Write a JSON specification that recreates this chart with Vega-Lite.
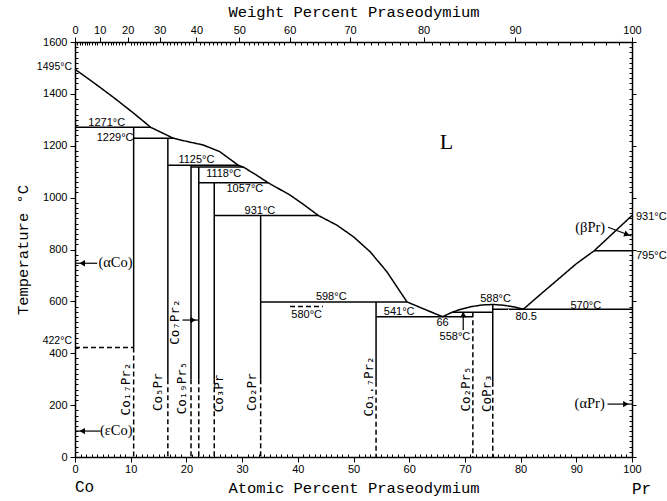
{
  "$schema": "https://vega.github.io/schema/vega-lite/v6.json",
  "width": 557,
  "height": 415,
  "autosize": {"type": "none"},
  "padding": {"left": 75, "top": 42, "right": 35, "bottom": 44},
  "background": "white",
  "config": {
    "view": {"stroke": null},
    "axis": {
      "grid": false,
      "domainColor": "black",
      "domainWidth": 1.5,
      "tickColor": "black",
      "tickWidth": 1,
      "labelColor": "black",
      "labelFont": "Liberation Sans",
      "labelFontSize": 11,
      "labelFlush": false,
      "labelOverlap": false,
      "labelBound": false,
      "titleColor": "black",
      "titleFont": "Liberation Mono",
      "titleFontWeight": "normal",
      "titleFontSize": 15.5
    }
  },
  "datasets": {
    "phase": [
      {"s": "liqA", "i": 1, "x": 0, "t": 1495, "st": "solid"},
      {"s": "liqA", "i": 2, "x": 3.5, "t": 1441, "st": "solid"},
      {"s": "liqA", "i": 3, "x": 7, "t": 1385, "st": "solid"},
      {"s": "liqA", "i": 4, "x": 10.5, "t": 1326, "st": "solid"},
      {"s": "liqA", "i": 5, "x": 13.6, "t": 1271, "st": "solid"},
      {"s": "liqA", "i": 6, "x": 17.65, "t": 1229, "st": "solid"},
      {"s": "liqA", "i": 7, "x": 20, "t": 1217, "st": "solid"},
      {"s": "liqA", "i": 8, "x": 23, "t": 1203, "st": "solid"},
      {"s": "liqA", "i": 9, "x": 26, "t": 1177, "st": "solid"},
      {"s": "liqA", "i": 10, "x": 29.3, "t": 1125, "st": "solid"},
      {"s": "liqA", "i": 11, "x": 30.2, "t": 1118, "st": "solid"},
      {"s": "liqA", "i": 12, "x": 32.5, "t": 1088, "st": "solid"},
      {"s": "liqA", "i": 13, "x": 34.7, "t": 1057, "st": "solid"},
      {"s": "liqA", "i": 14, "x": 38.6, "t": 1010, "st": "solid"},
      {"s": "liqA", "i": 15, "x": 41, "t": 974, "st": "solid"},
      {"s": "liqA", "i": 16, "x": 43.7, "t": 931, "st": "solid"},
      {"s": "liqA", "i": 17, "x": 47, "t": 894, "st": "solid"},
      {"s": "liqA", "i": 18, "x": 50, "t": 849, "st": "solid"},
      {"s": "liqA", "i": 19, "x": 53, "t": 791, "st": "solid"},
      {"s": "liqA", "i": 20, "x": 56, "t": 714, "st": "solid"},
      {"s": "liqA", "i": 21, "x": 59.6, "t": 598, "st": "solid"},
      {"s": "liqA", "i": 22, "x": 62.8, "t": 569, "st": "solid"},
      {"s": "liqA", "i": 23, "x": 66, "t": 541, "st": "solid"},
      {"s": "liqB", "i": 1, "x": 66, "t": 541, "st": "solid"},
      {"s": "liqB", "i": 2, "x": 67.5, "t": 556, "st": "solid"},
      {"s": "liqB", "i": 3, "x": 69, "t": 568, "st": "solid"},
      {"s": "liqB", "i": 4, "x": 71, "t": 579, "st": "solid"},
      {"s": "liqB", "i": 5, "x": 73, "t": 586, "st": "solid"},
      {"s": "liqB", "i": 6, "x": 75, "t": 588, "st": "solid"},
      {"s": "liqB", "i": 7, "x": 77, "t": 585, "st": "solid"},
      {"s": "liqB", "i": 8, "x": 79, "t": 578, "st": "solid"},
      {"s": "liqB", "i": 9, "x": 80.5, "t": 570, "st": "solid"},
      {"s": "liqC", "i": 1, "x": 80.5, "t": 570, "st": "solid"},
      {"s": "liqC", "i": 2, "x": 84, "t": 635, "st": "solid"},
      {"s": "liqC", "i": 3, "x": 87, "t": 690, "st": "solid"},
      {"s": "liqC", "i": 4, "x": 90, "t": 745, "st": "solid"},
      {"s": "liqC", "i": 5, "x": 93.2, "t": 795, "st": "solid"},
      {"s": "liqC", "i": 6, "x": 100, "t": 931, "st": "solid"},
      {"s": "h1271", "i": 1, "x": 0, "t": 1271, "st": "solid"},
      {"s": "h1271", "i": 2, "x": 13.6, "t": 1271, "st": "solid"},
      {"s": "h1229", "i": 1, "x": 10.53, "t": 1229, "st": "solid"},
      {"s": "h1229", "i": 2, "x": 17.65, "t": 1229, "st": "solid"},
      {"s": "h1125", "i": 1, "x": 16.67, "t": 1125, "st": "solid"},
      {"s": "h1125", "i": 2, "x": 29.3, "t": 1125, "st": "solid"},
      {"s": "h1118", "i": 1, "x": 20.83, "t": 1118, "st": "solid"},
      {"s": "h1118", "i": 2, "x": 30.2, "t": 1118, "st": "solid"},
      {"s": "h1057", "i": 1, "x": 22.22, "t": 1057, "st": "solid"},
      {"s": "h1057", "i": 2, "x": 34.7, "t": 1057, "st": "solid"},
      {"s": "h931", "i": 1, "x": 25, "t": 931, "st": "solid"},
      {"s": "h931", "i": 2, "x": 43.7, "t": 931, "st": "solid"},
      {"s": "h598", "i": 1, "x": 33.33, "t": 598, "st": "solid"},
      {"s": "h598", "i": 2, "x": 59.6, "t": 598, "st": "solid"},
      {"s": "h541", "i": 1, "x": 54.05, "t": 541, "st": "solid"},
      {"s": "h541", "i": 2, "x": 71.43, "t": 541, "st": "solid"},
      {"s": "h558", "i": 1, "x": 67.75, "t": 558, "st": "solid"},
      {"s": "h558", "i": 2, "x": 75, "t": 558, "st": "solid"},
      {"s": "h570", "i": 1, "x": 75, "t": 570, "st": "solid"},
      {"s": "h570", "i": 2, "x": 100, "t": 570, "st": "solid"},
      {"s": "h795", "i": 1, "x": 93.2, "t": 795, "st": "solid"},
      {"s": "h795", "i": 2, "x": 100, "t": 795, "st": "solid"},
      {"s": "h580", "i": 1, "x": 38.6, "t": 580, "st": "dashed"},
      {"s": "h580", "i": 2, "x": 44.5, "t": 580, "st": "dashed"},
      {"s": "h422", "i": 1, "x": 0, "t": 422, "st": "dashed"},
      {"s": "h422", "i": 2, "x": 10.53, "t": 422, "st": "dashed"},
      {"s": "v17a", "i": 1, "x": 10.53, "t": 1271, "st": "solid"},
      {"s": "v17a", "i": 2, "x": 10.53, "t": 422, "st": "solid"},
      {"s": "v17b", "i": 1, "x": 10.53, "t": 422, "st": "dashed"},
      {"s": "v17b", "i": 2, "x": 10.53, "t": 0, "st": "dashed"},
      {"s": "v5a", "i": 1, "x": 16.67, "t": 1229, "st": "solid"},
      {"s": "v5a", "i": 2, "x": 16.67, "t": 300, "st": "solid"},
      {"s": "v5b", "i": 1, "x": 16.67, "t": 300, "st": "dashed"},
      {"s": "v5b", "i": 2, "x": 16.67, "t": 0, "st": "dashed"},
      {"s": "v19a", "i": 1, "x": 20.83, "t": 1125, "st": "solid"},
      {"s": "v19a", "i": 2, "x": 20.83, "t": 300, "st": "solid"},
      {"s": "v19b", "i": 1, "x": 20.83, "t": 300, "st": "dashed"},
      {"s": "v19b", "i": 2, "x": 20.83, "t": 0, "st": "dashed"},
      {"s": "v7a", "i": 1, "x": 22.22, "t": 1118, "st": "solid"},
      {"s": "v7a", "i": 2, "x": 22.22, "t": 300, "st": "solid"},
      {"s": "v7b", "i": 1, "x": 22.22, "t": 300, "st": "dashed"},
      {"s": "v7b", "i": 2, "x": 22.22, "t": 0, "st": "dashed"},
      {"s": "v3a", "i": 1, "x": 25, "t": 1057, "st": "solid"},
      {"s": "v3a", "i": 2, "x": 25, "t": 300, "st": "solid"},
      {"s": "v3b", "i": 1, "x": 25, "t": 300, "st": "dashed"},
      {"s": "v3b", "i": 2, "x": 25, "t": 0, "st": "dashed"},
      {"s": "v2a", "i": 1, "x": 33.33, "t": 931, "st": "solid"},
      {"s": "v2a", "i": 2, "x": 33.33, "t": 300, "st": "solid"},
      {"s": "v2b", "i": 1, "x": 33.33, "t": 300, "st": "dashed"},
      {"s": "v2b", "i": 2, "x": 33.33, "t": 0, "st": "dashed"},
      {"s": "v17p2a", "i": 1, "x": 54.05, "t": 598, "st": "solid"},
      {"s": "v17p2a", "i": 2, "x": 54.05, "t": 290, "st": "solid"},
      {"s": "v17p2b", "i": 1, "x": 54.05, "t": 290, "st": "dashed"},
      {"s": "v17p2b", "i": 2, "x": 54.05, "t": 0, "st": "dashed"},
      {"s": "v25", "i": 1, "x": 71.43, "t": 558, "st": "dashed"},
      {"s": "v25", "i": 2, "x": 71.43, "t": 0, "st": "dashed"},
      {"s": "vp3a", "i": 1, "x": 75, "t": 588, "st": "solid"},
      {"s": "vp3a", "i": 2, "x": 75, "t": 290, "st": "solid"},
      {"s": "vp3b", "i": 1, "x": 75, "t": 290, "st": "dashed"},
      {"s": "vp3b", "i": 2, "x": 75, "t": 0, "st": "dashed"}
    ],
    "temps": [
      {"x": 5.7, "t": 1289, "label": "1271°C"},
      {"x": 7.2, "t": 1229, "label": "1229°C"},
      {"x": 21.8, "t": 1145, "label": "1125°C"},
      {"x": 26.7, "t": 1092, "label": "1118°C"},
      {"x": 30.5, "t": 1033, "label": "1057°C"},
      {"x": 33.2, "t": 950, "label": "931°C"},
      {"x": 46.0, "t": 618, "label": "598°C"},
      {"x": 41.6, "t": 547, "label": "580°C"},
      {"x": 58.2, "t": 560, "label": "541°C"},
      {"x": 66.0, "t": 515, "label": "66"},
      {"x": 68.2, "t": 461, "label": "558°C"},
      {"x": 75.5, "t": 609, "label": "588°C"},
      {"x": 81.0, "t": 541, "label": "80.5"},
      {"x": 91.7, "t": 583, "label": "570°C"}
    ],
    "tempsLeft": [
      {"x": 0, "t": 1505, "label": "1495°C"},
      {"x": 0, "t": 446, "label": "422°C"}
    ],
    "tempsRight": [
      {"x": 100, "t": 926, "label": "931°C"},
      {"x": 100, "t": 775, "label": "795°C"}
    ],
    "phases": [
      {"x": 7.27, "t": 747, "label": "(αCo)"},
      {"x": 7.4, "t": 100, "label": "(εCo)"},
      {"x": 92.5, "t": 884, "label": "(βPr)"},
      {"x": 92.4, "t": 204, "label": "(αPr)"}
    ],
    "compounds": [
      {"x": 9.1, "t": 262, "label": "Co₁₇Pr₂"},
      {"x": 14.9, "t": 250, "label": "Co₅Pr"},
      {"x": 19.2, "t": 266, "label": "Co₁₉Pr₅"},
      {"x": 17.95, "t": 520, "label": "Co₇Pr₂"},
      {"x": 25.9, "t": 245, "label": "Co₃Pr"},
      {"x": 31.7, "t": 250, "label": "Co₂Pr"},
      {"x": 52.7, "t": 272, "label": "Co₁.₇Pr₂"},
      {"x": 70.2, "t": 262, "label": "Co₂Pr₅"},
      {"x": 73.9, "t": 246, "label": "CoPr₃"}
    ],
    "arrows": [
      {"a": "aCo", "i": 1, "x": 4.0, "t": 747},
      {"a": "aCo", "i": 2, "x": 0, "t": 747},
      {"a": "eCo", "i": 1, "x": 4.6, "t": 100},
      {"a": "eCo", "i": 2, "x": 0, "t": 100},
      {"a": "aPr", "i": 1, "x": 95.6, "t": 204},
      {"a": "aPr", "i": 2, "x": 100, "t": 204},
      {"a": "bPr", "i": 1, "x": 95.7, "t": 886},
      {"a": "bPr", "i": 2, "x": 99.9, "t": 852},
      {"a": "c72", "i": 1, "x": 19.3, "t": 528},
      {"a": "c72", "i": 2, "x": 22.22, "t": 528},
      {"a": "t558", "i": 1, "x": 69.7, "t": 490},
      {"a": "t558", "i": 2, "x": 69.7, "t": 558}
    ],
    "heads": [
      {"x": 1.3, "t": 747, "rot": 180},
      {"x": 1.3, "t": 100, "rot": 180},
      {"x": 98.9, "t": 204, "rot": 0},
      {"x": 99.1, "t": 858, "rot": 21},
      {"x": 21.2, "t": 528, "rot": 0},
      {"x": 69.7, "t": 549, "rot": 270}
    ],
    "ends": [
      {"x": 0, "t": -117, "label": "Co"},
      {"x": 100, "t": -123, "label": "Pr"}
    ],
    "region": [
      {"x": 66.7, "t": 1215, "label": "L"}
    ]
  },
  "layer": [
    {
      "data": {"name": "phase"},
      "mark": {"type": "line", "color": "black", "strokeWidth": 1.5},
      "encoding": {
        "x": {
          "field": "x", "type": "quantitative",
          "scale": {"domain": [0, 100], "nice": false, "zero": false},
          "axis": {
            "orient": "bottom",
            "title": "Atomic Percent Praseodymium",
            "titlePadding": 6,
            "values": [0,1,2,3,4,5,6,7,8,9,10,11,12,13,14,15,16,17,18,19,20,21,22,23,24,25,26,27,28,29,30,31,32,33,34,35,36,37,38,39,40,41,42,43,44,45,46,47,48,49,50,51,52,53,54,55,56,57,58,59,60,61,62,63,64,65,66,67,68,69,70,71,72,73,74,75,76,77,78,79,80,81,82,83,84,85,86,87,88,89,90,91,92,93,94,95,96,97,98,99,100],
            "labelExpr": "datum.value % 10 === 0 ? '' + datum.value : ''",
            "tickSize": {"condition": {"test": "datum.value % 10 === 0", "value": 5}, "value": -3},
            "labelPadding": 1
          }
        },
        "y": {
          "field": "t", "type": "quantitative",
          "scale": {"domain": [0, 1600], "nice": false, "zero": false},
          "axis": {
            "orient": "left",
            "title": "Temperature °C",
            "titlePadding": 12,
            "values": [0,20,40,60,80,100,120,140,160,180,200,220,240,260,280,300,320,340,360,380,400,420,440,460,480,500,520,540,560,580,600,620,640,660,680,700,720,740,760,780,800,820,840,860,880,900,920,940,960,980,1000,1020,1040,1060,1080,1100,1120,1140,1160,1180,1200,1220,1240,1260,1280,1300,1320,1340,1360,1380,1400,1420,1440,1460,1480,1500,1520,1540,1560,1580,1600],
            "labelExpr": "datum.value % 200 === 0 ? '' + datum.value : ''",
            "tickSize": {"condition": {"test": "datum.value % 200 === 0", "value": 5}, "value": -3},
            "labelPadding": 3
          }
        },
        "detail": {"field": "s"},
        "order": {"field": "i"},
        "strokeDash": {
          "field": "st", "type": "nominal",
          "scale": {"domain": ["solid", "dashed"], "range": [[1, 0], [5, 3]]},
          "legend": null
        }
      }
    },
    {
      "data": {"name": "temps"},
      "mark": {"type": "text", "font": "Liberation Sans", "fontSize": 11, "color": "black"},
      "encoding": {
        "x": {
          "field": "x", "type": "quantitative",
          "scale": {"domain": [0, 100], "nice": false, "zero": false},
          "axis": {
            "orient": "top",
            "title": "Weight Percent Praseodymium",
            "titlePadding": 5,
            "values": [0,0.4207,0.8463,1.277,1.7128,2.1538,2.6002,3.0519,3.5092,3.9721,4.4406,4.9151,5.3955,5.8819,6.3745,6.8733,7.3785,7.8903,8.4087,8.934,9.4662,10.0052,10.5516,11.1053,11.6665,12.2353,12.812,13.3966,13.9893,14.5904,15.2,15.818,16.445,17.081,17.726,18.381,19.045,19.719,20.403,21.098,21.803,22.519,23.246,23.984,24.733,25.495,26.268,27.055,27.853,28.665,29.49,30.328,31.181,32.048,32.93,33.826,34.738,35.667,36.611,37.572,38.55,39.546,40.56,41.593,42.645,43.716,44.808,45.921,47.055,48.211,49.39,50.592,51.818,53.069,54.345,55.648,56.978,58.336,59.723,61.14,62.588,64.068,65.58,67.127,68.708,70.326,71.982,73.677,75.412,77.189,79.01,80.875,82.787,84.748,86.759,88.822,90.94,93.114,95.347,97.642,100],
            "labelExpr": "abs(100*datum.value*140.908/(datum.value*140.908+(100-datum.value)*58.933)/10 - round(100*datum.value*140.908/(datum.value*140.908+(100-datum.value)*58.933)/10)) < 0.02 ? '' + round(100*datum.value*140.908/(datum.value*140.908+(100-datum.value)*58.933)) : ''",
            "tickSize": {"condition": {"test": "abs(100*datum.value*140.908/(datum.value*140.908+(100-datum.value)*58.933)/10 - round(100*datum.value*140.908/(datum.value*140.908+(100-datum.value)*58.933)/10)) < 0.02", "value": 5}, "value": -3},
            "labelPadding": 2
          }
        },
        "y": {
          "field": "t", "type": "quantitative",
          "scale": {"domain": [0, 1600], "nice": false, "zero": false},
          "axis": {
            "orient": "right",
            "title": null,
            "labels": false,
            "values": [0,20,40,60,80,100,120,140,160,180,200,220,240,260,280,300,320,340,360,380,400,420,440,460,480,500,520,540,560,580,600,620,640,660,680,700,720,740,760,780,800,820,840,860,880,900,920,940,960,980,1000,1020,1040,1060,1080,1100,1120,1140,1160,1180,1200,1220,1240,1260,1280,1300,1320,1340,1360,1380,1400,1420,1440,1460,1480,1500,1520,1540,1560,1580,1600],
            "tickSize": {"condition": {"test": "datum.value % 200 === 0", "value": 4}, "value": -3}
          }
        },
        "text": {"field": "label"}
      }
    },
    {
      "data": {"name": "tempsLeft"},
      "mark": {"type": "text", "font": "Liberation Sans", "fontSize": 10.5, "color": "black", "align": "right", "dx": -3},
      "encoding": {
        "x": {"field": "x", "type": "quantitative", "scale": {"domain": [0, 100]}, "axis": null},
        "y": {"field": "t", "type": "quantitative", "scale": {"domain": [0, 1600]}, "axis": null},
        "text": {"field": "label"}
      }
    },
    {
      "data": {"name": "tempsRight"},
      "mark": {"type": "text", "font": "Liberation Sans", "fontSize": 11, "color": "black", "align": "left", "dx": 4},
      "encoding": {
        "x": {"field": "x", "type": "quantitative", "scale": {"domain": [0, 100]}, "axis": null},
        "y": {"field": "t", "type": "quantitative", "scale": {"domain": [0, 1600]}, "axis": null},
        "text": {"field": "label"}
      }
    },
    {
      "data": {"name": "phases"},
      "mark": {"type": "text", "font": "Liberation Serif", "fontSize": 14.5, "color": "black"},
      "encoding": {
        "x": {"field": "x", "type": "quantitative", "scale": {"domain": [0, 100]}, "axis": null},
        "y": {"field": "t", "type": "quantitative", "scale": {"domain": [0, 1600]}, "axis": null},
        "text": {"field": "label"}
      }
    },
    {
      "data": {"name": "compounds"},
      "mark": {"type": "text", "font": "DejaVu Sans Mono", "fontSize": 12.5, "color": "black", "angle": 270},
      "encoding": {
        "x": {"field": "x", "type": "quantitative", "scale": {"domain": [0, 100]}, "axis": null},
        "y": {"field": "t", "type": "quantitative", "scale": {"domain": [0, 1600]}, "axis": null},
        "text": {"field": "label"}
      }
    },
    {
      "data": {"name": "arrows"},
      "mark": {"type": "line", "color": "black", "strokeWidth": 1.2},
      "encoding": {
        "x": {"field": "x", "type": "quantitative", "scale": {"domain": [0, 100]}, "axis": null},
        "y": {"field": "t", "type": "quantitative", "scale": {"domain": [0, 1600]}, "axis": null},
        "detail": {"field": "a"},
        "order": {"field": "i"}
      }
    },
    {
      "data": {"name": "heads"},
      "mark": {"type": "point", "shape": "triangle-right", "filled": true, "color": "black", "opacity": 1, "size": 40},
      "encoding": {
        "x": {"field": "x", "type": "quantitative", "scale": {"domain": [0, 100]}, "axis": null},
        "y": {"field": "t", "type": "quantitative", "scale": {"domain": [0, 1600]}, "axis": null},
        "angle": {"field": "rot", "type": "quantitative", "scale": null}
      }
    },
    {
      "data": {"name": "ends"},
      "mark": {"type": "text", "font": "Liberation Mono", "fontSize": 16, "color": "black", "align": "left"},
      "encoding": {
        "x": {"field": "x", "type": "quantitative", "scale": {"domain": [0, 100]}, "axis": null},
        "y": {"field": "t", "type": "quantitative", "scale": {"domain": [0, 1600]}, "axis": null},
        "text": {"field": "label"}
      }
    },
    {
      "data": {"name": "region"},
      "mark": {"type": "text", "font": "Liberation Serif", "fontSize": 22, "color": "black"},
      "encoding": {
        "x": {"field": "x", "type": "quantitative", "scale": {"domain": [0, 100]}, "axis": null},
        "y": {"field": "t", "type": "quantitative", "scale": {"domain": [0, 1600]}, "axis": null},
        "text": {"field": "label"}
      }
    }
  ],
  "resolve": {"axis": {"x": "independent", "y": "independent"}}
}
